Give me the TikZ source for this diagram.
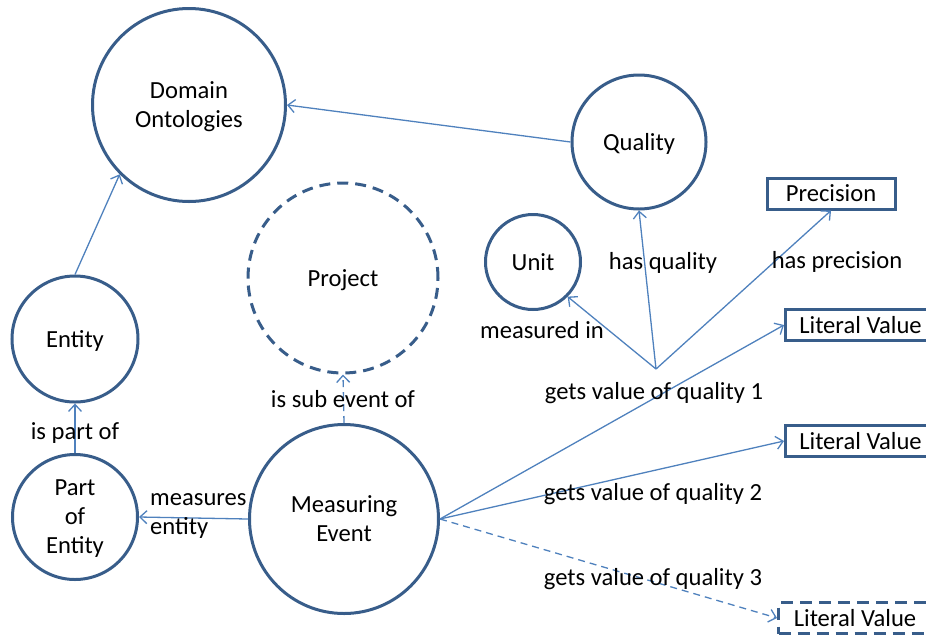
\documentclass[tikz,border=0pt]{standalone}
\usepackage{fontspec}
\setmainfont{Carlito}
\usetikzlibrary{arrows.meta}
\definecolor{ringblue}{RGB}{56,93,138}
\definecolor{linkblue}{RGB}{79,129,189}

\begin{document}
\begin{tikzpicture}[x=1pt, y=-1pt,
    every node/.style={font=\fontsize{24.6}{29}\selectfont, text depth=0pt},
    concept/.style={draw=ringblue, line width=3pt, circle, inner sep=0pt, align=center},
    valuebox/.style={draw=ringblue, line width=3pt, rectangle, inner sep=0pt, minimum height=31pt},
    link/.style={draw=linkblue, line width=1.3pt, -{Straight Barb[length=7pt,width=13pt]}},
    lbl/.style={inner sep=0pt}]
    \useasboundingbox (0,0) rectangle (926,638);

    % concepts
    \node[concept, minimum size=193pt] (domain) at (189,105) {Domain\\Ontologies};
    \node[concept, minimum size=134pt] (quality) at (639,142) {Quality};
    \node[concept, minimum size=190pt, dash pattern=on 11pt off 7pt] (project) at (343,278) {Project};
    \node[concept, minimum size=95pt] (unit) at (533,262) {Unit};
    \node[concept, minimum size=126pt] (entity) at (75,339) {Entity};
    \node[concept, minimum size=125pt] (partof) at (75,517) {Part\\of\\Entity};
    \node[concept, minimum size=189pt] (measuring) at (344,519) {Measuring\\Event};

    % values
    \node[valuebox, minimum width=128pt] (precision) at (831,193.5) {Precision};
    \node[valuebox, minimum width=150pt, anchor=west] (literal1) at (784,325) {Literal Value};
    \node[valuebox, minimum width=150pt, anchor=west] (literal2) at (784,441) {Literal Value};
    \node[valuebox, minimum width=153pt, anchor=west, dash pattern=on 12pt off 7pt] (literal3) at (777,618) {Literal Value};

    \coordinate (hub) at (656,369);

    % links
    \draw[link] (quality.west) -- (domain.east);
    \draw[link] (entity.north) -- (domain.225);
    \draw[link] (partof.north) -- (entity.south);
    \draw[link, dash pattern=on 7pt off 5pt] (measuring.north) -- (project.south);
    \draw[link] (measuring.west) -- (partof.east);
    \draw[link] (measuring.east) -- (literal1.west);
    \draw[link] (measuring.east) -- (literal2.west);
    \draw[link, dash pattern=on 7pt off 5pt] (measuring.east) -- (literal3.west);
    \draw[link] (hub) -- (unit.-45);
    \draw[link] (hub) -- (quality.south);
    \draw[link] (hub) -- (precision.south);

    % link labels
    \node[lbl] (partlbl) at (75,431) {is part of};
    \node[lbl] (sublbl) at (343,399) {is sub event of};
    \node[lbl, anchor=west, align=left] (measlbl) at (150,514) {measures\\entity};
    \node[lbl] (unitlbl) at (542,330) {measured in};
    \node[lbl] (qualbl) at (663,261) {has quality};
    \node[lbl] (preclbl) at (837,260) {has precision};
    \node[lbl] (val1lbl) at (654,391) {gets value of quality 1};
    \node[lbl] (val2lbl) at (653,492) {gets value of quality 2};
    \node[lbl] (val3lbl) at (653,577) {gets value of quality 3};
\end{tikzpicture}
\end{document}
